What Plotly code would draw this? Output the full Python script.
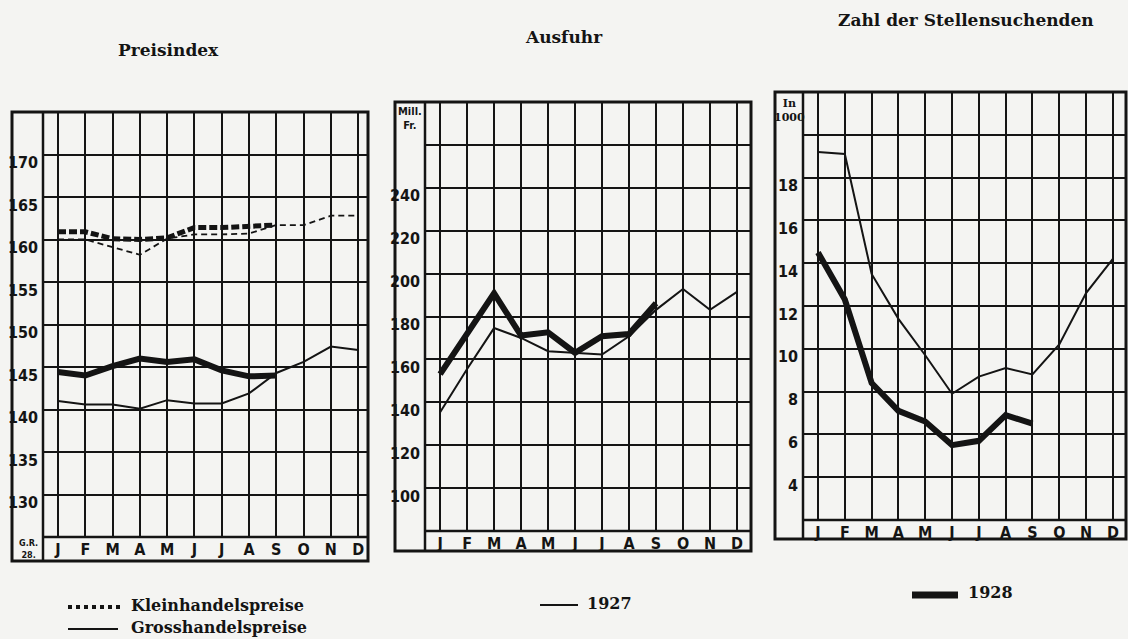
import plotly.graph_objects as go

# ---------------- data ----------------
months = ["J", "F", "M", "A", "M", "J", "J", "A", "S", "O", "N", "D"]

# Preisindex
klein_1927 = [160.0, 160.0, 159.1, 158.2, 160.1, 160.6, 160.6, 160.7, 161.7, 161.7, 162.8, 162.8]
klein_1928 = [160.9, 160.9, 160.1, 160.0, 160.2, 161.4, 161.4, 161.5, 161.7]
gross_1927 = [141.0, 140.6, 140.6, 140.1, 141.1, 140.7, 140.7, 141.9, 144.3, 145.6, 147.4, 147.0]
gross_1928 = [144.4, 144.0, 145.1, 146.0, 145.6, 145.9, 144.6, 143.9, 144.0]

# Ausfuhr (Mill. Fr.)
ausfuhr_1927 = [135.4, 155.5, 174.6, 170.0, 163.8, 163.1, 162.3, 170.8, 183.1, 192.8, 183.1, 191.5]
ausfuhr_1928 = [153.1, 172.0, 190.8, 171.1, 172.6, 163.1, 170.8, 171.8, 186.2]

# Zahl der Stellensuchenden (in 1000)
stellen_1927 = [19.2, 19.1, 13.5, 11.4, 9.7, 7.9, 8.7, 9.1, 8.8, 10.2, 12.6, 14.2]
stellen_1928 = [14.5, 12.3, 8.4, 7.1, 6.6, 5.5, 5.7, 6.9, 6.5]

titles = ["Preisindex", "Ausfuhr", "Zahl der Stellensuchenden"]

p1_ticks = [130, 135, 140, 145, 150, 155, 160, 165, 170]
p1_text = ["130", "135", "140", "145", "150", "155", "160", "165", "170"]
p2_ticks = [100, 120, 140, 160, 180, 200, 220, 240, 260]
p2_text = ["100", "120", "140", "160", "180", "200", "220", "240", ""]
p3_ticks = [4, 6, 8, 10, 12, 14, 16, 18, 20]
p3_text = ["4", "6", "8", "10", "12", "14", "16", "18", ""]

# ---------------- layout geometry (pixels) ----------------
W, H = 1128, 639
INK = "#141414"
PAPER = "#f4f4f2"
SERIF = "DejaVu Serif, Liberation Serif, serif"
HAND = "DejaVu Sans Condensed, Liberation Sans Narrow, DejaVu Sans, sans-serif"

panels = [
    dict(ol=12, ll=43, r=368, t=112, gb=537, fb=561, yr=[125, 175], xr=[-0.55, 11.36],
         tv=p1_ticks, tt=p1_text),
    dict(ol=395, ll=425, r=751, t=102, gb=531, fb=551, yr=[80, 280], xr=[-0.56, 11.52],
         tv=p2_ticks, tt=p2_text),
    dict(ol=775, ll=803, r=1126, t=92, gb=520, fb=539, yr=[2, 22], xr=[-0.56, 11.49],
         tv=p3_ticks, tt=p3_text),
]


def px(x):
    return x / W


def py(y):
    return 1 - y / H


month_idx = list(range(len(months)))

fig = go.Figure()


def add_line(values, panel, width, dash="solid"):
    sfx = "" if panel == 1 else str(panel)
    fig.add_trace(go.Scatter(
        x=month_idx[:len(values)], y=values, mode="lines",
        line=dict(color=INK, width=width, dash=dash, shape="linear"),
        xaxis="x" + sfx, yaxis="y" + sfx, showlegend=False, hoverinfo="skip"))


add_line(gross_1927, 1, 2)
add_line(klein_1927, 1, 1.8, "6px,4px")
add_line(gross_1928, 1, 6)
add_line(klein_1928, 1, 5, "8px,3px")
add_line(ausfuhr_1927, 2, 2)
add_line(ausfuhr_1928, 2, 6)
add_line(stellen_1927, 3, 2)
add_line(stellen_1928, 3, 6)

shapes = []
annotations = []
layout_axes = {}
for i, p in enumerate(panels):
    sfx = "" if i == 0 else str(i + 1)
    layout_axes["xaxis" + sfx] = dict(
        domain=[px(p["ll"]), px(p["r"])], range=p["xr"], anchor="y" + sfx,
        tickmode="array", tickvals=month_idx, ticktext=months,
        showgrid=True, gridcolor=INK, gridwidth=2, zeroline=False, showline=False,
        ticks="", tickfont=dict(family=HAND, size=16, color=INK, weight="bold"),
        ticklabelstandoff=1, fixedrange=True)
    layout_axes["yaxis" + sfx] = dict(
        domain=[py(p["gb"]), py(p["t"])], range=p["yr"], anchor="x" + sfx,
        tickmode="array", tickvals=p["tv"], ticktext=p["tt"],
        showgrid=True, gridcolor=INK, gridwidth=2, zeroline=False, showline=False,
        ticks="", tickfont=dict(family=HAND, size=16, color=INK, weight="bold"),
        ticklabelshift=8, ticklabelstandoff=4, fixedrange=True)
    shapes.append(dict(type="rect", xref="paper", yref="paper",
                       x0=px(p["ol"]), x1=px(p["r"]), y0=py(p["fb"]), y1=py(p["t"]),
                       line=dict(color=INK, width=3), layer="above"))
    shapes.append(dict(type="line", xref="paper", yref="paper",
                       x0=px(p["ll"]), x1=px(p["ll"]), y0=py(p["fb"]), y1=py(p["t"]),
                       line=dict(color=INK, width=2.5), layer="above"))
    shapes.append(dict(type="line", xref="paper", yref="paper",
                       x0=px(p["ll"]), x1=px(p["r"]), y0=py(p["gb"]), y1=py(p["gb"]),
                       line=dict(color=INK, width=2.5), layer="above"))

title_pos = [(168, 50), (564, 37), (966, 20)]
for text, (tx, ty) in zip(titles, title_pos):
    annotations.append(dict(text="<b>" + text + "</b>", x=px(tx), y=py(ty),
                            xref="paper", yref="paper", showarrow=False,
                            xanchor="center", yanchor="middle",
                            font=dict(family=SERIF, size=17, color=INK)))

annotations.append(dict(text="<b>G.R.<br>28.</b>", x=px(28), y=py(549), xref="paper", yref="paper",
                        showarrow=False, font=dict(family=HAND, size=9, color=INK),
                        align="center", xanchor="center", yanchor="middle"))
annotations.append(dict(text="<b>Mill.<br>Fr.</b>", x=px(410), y=py(118), xref="paper", yref="paper",
                        showarrow=False, font=dict(family=HAND, size=11, color=INK),
                        align="center", xanchor="center", yanchor="middle"))
annotations.append(dict(text="<b>In<br>1000</b>", x=px(789), y=py(110), xref="paper", yref="paper",
                        showarrow=False, font=dict(family=SERIF, size=11, color=INK),
                        align="center", xanchor="center", yanchor="middle"))

leg_font = dict(family=SERIF, size=16, color=INK)
shapes.append(dict(type="line", xref="paper", yref="paper", x0=px(68), x1=px(120),
                   y0=py(607), y1=py(607), line=dict(color=INK, width=4, dash="dot")))
annotations.append(dict(text="<b>Kleinhandelspreise</b>", x=px(129), y=py(605), xref="paper",
                        yref="paper", showarrow=False, xanchor="left", yanchor="middle", font=leg_font))
shapes.append(dict(type="line", xref="paper", yref="paper", x0=px(68), x1=px(118),
                   y0=py(629), y1=py(629), line=dict(color=INK, width=2)))
annotations.append(dict(text="<b>Grosshandelspreise</b>", x=px(129), y=py(627), xref="paper",
                        yref="paper", showarrow=False, xanchor="left", yanchor="middle", font=leg_font))
shapes.append(dict(type="line", xref="paper", yref="paper", x0=px(540), x1=px(578),
                   y0=py(605), y1=py(605), line=dict(color=INK, width=2)))
annotations.append(dict(text="<b>1927</b>", x=px(585), y=py(603), xref="paper",
                        yref="paper", showarrow=False, xanchor="left", yanchor="middle", font=leg_font))
shapes.append(dict(type="line", xref="paper", yref="paper", x0=px(912), x1=px(958),
                   y0=py(595), y1=py(595), line=dict(color=INK, width=7)))
annotations.append(dict(text="<b>1928</b>", x=px(966), y=py(592), xref="paper",
                        yref="paper", showarrow=False, xanchor="left", yanchor="middle", font=leg_font))

fig.update_layout(
    width=W, height=H, margin=dict(l=0, r=0, t=0, b=0),
    paper_bgcolor=PAPER, plot_bgcolor=PAPER,
    shapes=shapes, annotations=annotations, showlegend=False,
    **layout_axes)

fig.write_html("out.html", config={"displayModeBar": False},
               post_script="document.body.style.margin='0';document.body.style.overflow='hidden';")
